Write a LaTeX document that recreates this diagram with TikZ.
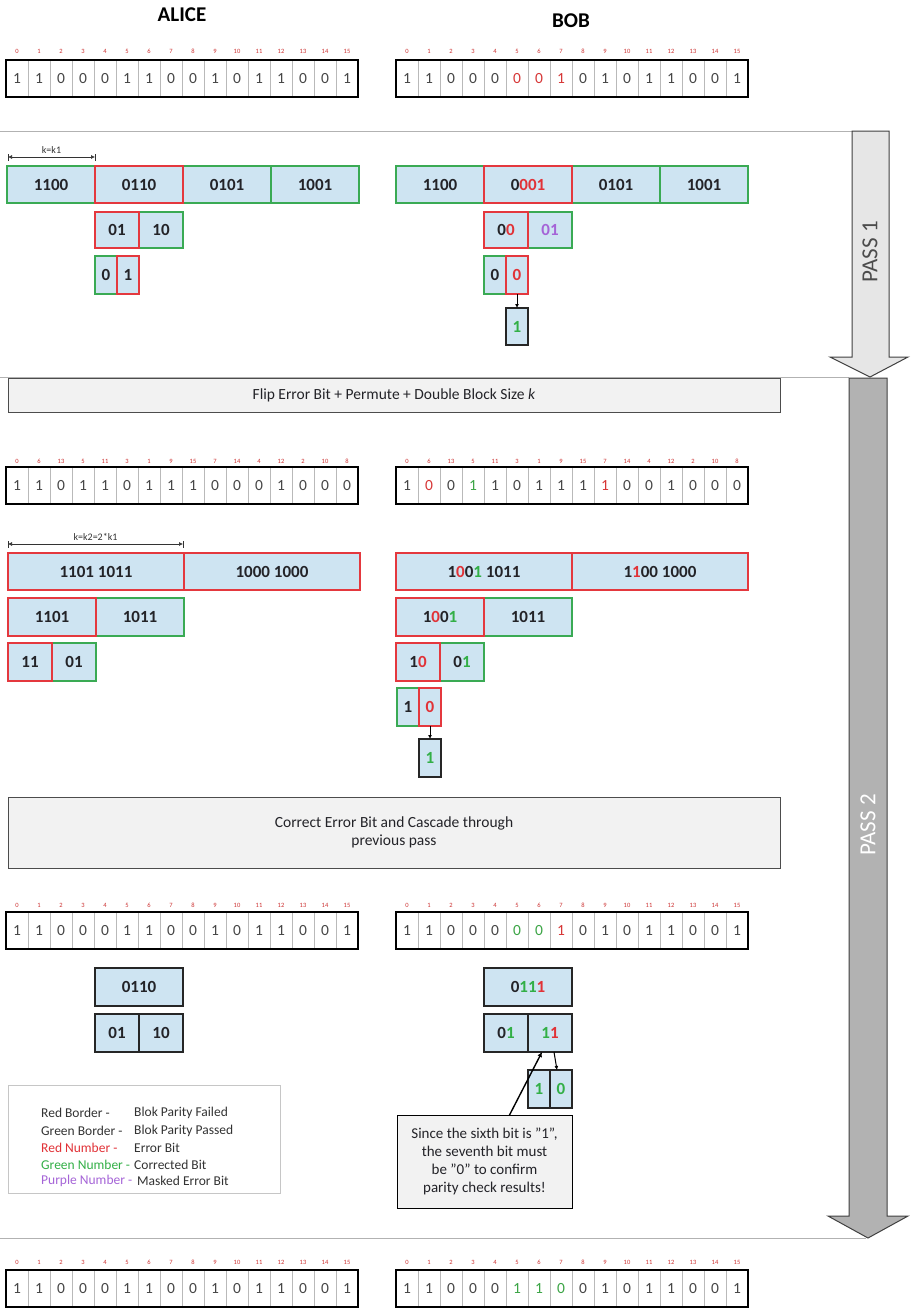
\documentclass[tikz,border=0pt]{standalone}
\usepackage{fontspec}
\setmainfont{Carlito}
\usetikzlibrary{arrows.meta}
\definecolor{bred}{RGB}{228,56,62}
\definecolor{bgreen}{RGB}{58,170,84}
\definecolor{tred}{RGB}{225,50,55}
\definecolor{tgreen}{RGB}{50,175,70}
\definecolor{tpurple}{RGB}{165,100,215}
\definecolor{bfill}{RGB}{206,228,242}
\definecolor{txt}{RGB}{35,35,40}
\definecolor{digit}{RGB}{70,70,70}
\definecolor{rowred}{RGB}{215,55,55}
\definecolor{rowgreen}{RGB}{60,165,70}
\definecolor{idxred}{RGB}{205,50,50}
\definecolor{banner}{RGB}{242,242,242}
\definecolor{pass1fill}{RGB}{230,230,230}
\definecolor{pass2fill}{RGB}{178,178,178}
\newcommand{\bitrow}[4]{%
  \foreach \b/\c [count=\i from 0] in {#4} {
    \node[bitcell,text=\c] (#1\i) at ({#2+11+22*\i},{#3+18.5}) {\b};
  }
  \draw[rowframe] (#10.north west) rectangle (#115.south east);
}
\newcommand{\idxrow}[4]{%
  \foreach \n [count=\i from 0] in {#4} {
    \node[idx] (#1\i) at ({#2+11+22*\i},#3) {\n};
  }
}
\newcommand{\blkat}[7]{%
  \node[blk,#6,minimum width={(#3-#2)*1pt},minimum height={(#5-#4)*1pt}] (#1) at ({(#2+#3)/2},{(#4+#5)/2}) {#7};
}
\begin{document}
\begin{tikzpicture}[x=1pt,y=-1pt,
  bitcell/.style={draw=gray!55,line width=.5pt,minimum width=22pt,minimum height=37pt,inner sep=0pt,outer sep=0pt,font=\fontsize{15.5}{17}\selectfont},
  rowframe/.style={draw=black,line width=1.6pt},
  idx/.style={inner sep=0pt,text=idxred,font=\fontsize{6.5}{7}\selectfont},
  blk/.style={draw,fill=bfill,line width=1.3pt,inner sep=0pt,outer sep=0pt,text=txt,font=\fontsize{17}{19}\selectfont\bfseries},
  gb/.style={draw=bgreen},
  rb/.style={draw=bred},
  kb/.style={draw=black!85},
  conn/.style={-{Latex[length=4pt,width=4pt]},line width=1pt,black},
  callarrow/.style={-{Latex[length=5pt,width=5pt]},line width=1.4pt,black},
  dim/.style={{Latex[length=4pt,width=4pt]}-{Latex[length=4pt,width=4pt]},line width=.6pt,black!80},
  dimlab/.style={inner sep=1pt,text=black!80,font=\fontsize{10}{11}\selectfont},
  frameline/.style={draw=gray!60,line width=1pt},
  bannerbox/.style={draw=black!70,fill=banner,line width=.8pt,inner sep=0pt,outer sep=0pt,text=txt,font=\fontsize{15.5}{18}\selectfont},
  legtext/.style={anchor=west,inner sep=0pt,text=black!80,font=\fontsize{13.5}{15}\selectfont},
  title/.style={font=\fontsize{21}{24}\selectfont\bfseries,text=black}
]
\useasboundingbox[fill=white] (0,0) rectangle (913,1314);

% frame lines
\draw[frameline] (0,131) -- (852,131);
\draw[frameline] (0,377) -- (849,377);
\draw[frameline] (0,1238) -- (866,1238);

% pass arrows
\draw[fill=pass1fill,draw=black!75,line width=1pt] (852,131) -- (889,131) -- (889,357) -- (908,357) -- (870,377) -- (830,357) -- (852,357) -- cycle;
\node[rotate=90,text=black!70,font=\fontsize{23}{25}\selectfont] (pass1) at (870,252) {PASS 1};
\draw[fill=pass2fill,draw=black!75,line width=1pt] (849,378) -- (887,378) -- (887,1216) -- (908,1216) -- (868,1238) -- (828,1216) -- (849,1216) -- cycle;
\node[rotate=90,text=white,font=\fontsize{23}{25}\selectfont] (pass2) at (868,825) {PASS 2};

% titles
\node[title] (alice) at (182,15) {ALICE};
\node[title] (bob) at (571,21) {BOB};

% top rows
\idxrow{ai}{6}{51}{0,1,2,3,4,5,6,7,8,9,10,11,12,13,14,15}
\bitrow{ar}{6}{60}{1/digit,1/digit,0/digit,0/digit,0/digit,1/digit,1/digit,0/digit,0/digit,1/digit,0/digit,1/digit,1/digit,0/digit,0/digit,1/digit}
\idxrow{bi}{396}{51}{0,1,2,3,4,5,6,7,8,9,10,11,12,13,14,15}
\bitrow{br}{396}{60}{1/digit,1/digit,0/digit,0/digit,0/digit,0/rowred,0/rowred,1/rowred,0/digit,1/digit,0/digit,1/digit,1/digit,0/digit,0/digit,1/digit}

% pass 1 dimension
\coordinate (k1s) at (8,157);
\coordinate (k1e) at (95,157);
\draw[dim] (k1s) -- node[dimlab,above=2pt] (k1lab) {k=k1} (k1e);
\draw[line width=.8pt,black!80] ([yshift=-3.5pt]k1s) -- ([yshift=3.5pt]k1s);
\draw[line width=.8pt,black!80] ([yshift=-3.5pt]k1e) -- ([yshift=3.5pt]k1e);

% pass 1 Alice
\blkat{a1b1}{7}{95}{166}{203}{gb}{1100}
\blkat{a1b3}{183}{271}{166}{203}{gb}{0101}
\blkat{a1b4}{271}{359}{166}{203}{gb}{1001}
\blkat{a1b2}{95}{183}{166}{203}{rb}{0110}
\blkat{a1c2}{139}{183}{212}{248}{gb}{10}
\blkat{a1c1}{95}{139}{212}{248}{rb}{01}
\blkat{a1d1}{95}{117}{256}{294}{gb}{0}
\blkat{a1d2}{117}{139}{256}{294}{rb}{1}

% pass 1 Bob
\blkat{b1b1}{396}{484}{166}{203}{gb}{1100}
\blkat{b1b3}{572}{660}{166}{203}{gb}{0101}
\blkat{b1b4}{660}{748}{166}{203}{gb}{1001}
\blkat{b1b2}{484}{572}{166}{203}{rb}{0\textcolor{tred}{001}}
\blkat{b1c2}{528}{572}{212}{248}{gb}{\textcolor{tpurple}{01}}
\blkat{b1c1}{484}{528}{212}{248}{rb}{0\textcolor{tred}{0}}
\blkat{b1d1}{484}{506}{256}{294}{gb}{0}
\blkat{b1d2}{506}{528}{256}{294}{rb}{\textcolor{tred}{0}}
\blkat{b1e}{506}{528}{308}{345}{kb}{\textcolor{tgreen}{1}}
\draw[conn] (b1d2.south) -- (b1e.north);

% banner 1
\node[bannerbox,minimum width=772pt,minimum height=34pt] (ban1) at (394,395) {Flip Error Bit + Permute + Double Block Size \textit{k}};

% pass 2 permuted rows
\idxrow{ai2}{6}{461}{0,6,13,5,11,3,1,9,15,7,14,4,12,2,10,8}
\bitrow{ar2}{6}{467}{1/digit,1/digit,0/digit,1/digit,1/digit,0/digit,1/digit,1/digit,1/digit,0/digit,0/digit,0/digit,1/digit,0/digit,0/digit,0/digit}
\idxrow{bi2}{396}{461}{0,6,13,5,11,3,1,9,15,7,14,4,12,2,10,8}
\bitrow{br2}{396}{467}{1/digit,0/rowred,0/digit,1/rowgreen,1/digit,0/digit,1/digit,1/digit,1/digit,1/rowred,0/digit,0/digit,1/digit,0/digit,0/digit,0/digit}

% pass 2 dimension
\coordinate (k2s) at (8,544);
\coordinate (k2e) at (183,544);
\draw[dim] (k2s) -- node[dimlab,above=2pt] (k2lab) {k=k2=2*k1} (k2e);
\draw[line width=.8pt,black!80] ([yshift=-3.5pt]k2s) -- ([yshift=3.5pt]k2s);
\draw[line width=.8pt,black!80] ([yshift=-3.5pt]k2e) -- ([yshift=3.5pt]k2e);

% pass 2 Alice
\blkat{a2b1}{8}{184}{553}{590}{rb}{1101 1011}
\blkat{a2b2}{184}{360}{553}{590}{rb}{1000 1000}
\blkat{a2c2}{96}{184}{598}{636}{gb}{1011}
\blkat{a2c1}{8}{96}{598}{636}{rb}{1101}
\blkat{a2d2}{52}{96}{643}{681}{gb}{01}
\blkat{a2d1}{8}{52}{643}{681}{rb}{11}

% pass 2 Bob
\blkat{b2b1}{396}{572}{553}{590}{rb}{1\textcolor{tred}{0}0\textcolor{tgreen}{1} 1011}
\blkat{b2b2}{572}{748}{553}{590}{rb}{1\textcolor{tred}{1}00 1000}
\blkat{b2c2}{484}{572}{598}{636}{gb}{1011}
\blkat{b2c1}{396}{484}{598}{636}{rb}{1\textcolor{tred}{0}0\textcolor{tgreen}{1}}
\blkat{b2d2}{440}{484}{643}{681}{gb}{0\textcolor{tgreen}{1}}
\blkat{b2d1}{396}{440}{643}{681}{rb}{1\textcolor{tred}{0}}
\blkat{b2e1}{397}{419}{688}{726}{gb}{1}
\blkat{b2e2}{419}{441}{688}{726}{rb}{\textcolor{tred}{0}}
\blkat{b2f}{419}{441}{739}{777}{kb}{\textcolor{tgreen}{1}}
\draw[conn] (b2e2.south) -- (b2f.north);

% banner 2
\node[bannerbox,minimum width=772pt,minimum height=71pt,align=center] (ban2) at (394,832.5) {Correct Error Bit and Cascade through\\previous pass};

% cascade rows
\idxrow{ai3}{6}{905}{0,1,2,3,4,5,6,7,8,9,10,11,12,13,14,15}
\bitrow{ar3}{6}{912}{1/digit,1/digit,0/digit,0/digit,0/digit,1/digit,1/digit,0/digit,0/digit,1/digit,0/digit,1/digit,1/digit,0/digit,0/digit,1/digit}
\idxrow{bi3}{396}{905}{0,1,2,3,4,5,6,7,8,9,10,11,12,13,14,15}
\bitrow{br3}{396}{912}{1/digit,1/digit,0/digit,0/digit,0/digit,0/rowgreen,0/rowgreen,1/rowred,0/digit,1/digit,0/digit,1/digit,1/digit,0/digit,0/digit,1/digit}

% cascade Alice
\blkat{a3b}{95}{183}{968}{1006}{kb}{0110}
\blkat{a3c1}{95}{139}{1014}{1052}{kb}{01}
\blkat{a3c2}{139}{183}{1014}{1052}{kb}{10}

% cascade Bob
\blkat{b3b}{484}{572}{968}{1006}{kb}{0\textcolor{tgreen}{11}\textcolor{tred}{1}}
\blkat{b3c1}{484}{528}{1014}{1052}{kb}{0\textcolor{tgreen}{1}}
\blkat{b3c2}{528}{572}{1014}{1052}{kb}{\textcolor{tgreen}{1}\textcolor{tred}{1}}
\blkat{b3d1}{528}{550}{1070}{1108}{kb}{\textcolor{tgreen}{1}}
\blkat{b3d2}{550}{572}{1070}{1108}{kb}{\textcolor{tgreen}{0}}
\draw[conn] ([xshift=4pt]b3c2.south) -- ([xshift=-4pt]b3d2.north);

% callout
\node[draw=black,fill=banner,line width=1pt,minimum width=175pt,minimum height=93pt,inner sep=0pt,outer sep=0pt,align=center,text=txt,font=\fontsize{15}{18}\selectfont] (call) at (484.5,1161.5) {Since the sixth bit is "1",\\the seventh bit must\\be "0" to confirm\\parity check results!};
\draw[callarrow] ([xshift=25pt]call.north) -- ([xshift=-8pt]b3c2.south);

% legend
\node[draw=gray!45,fill=white,line width=.8pt,minimum width=272pt,minimum height=108pt,inner sep=0pt] (legend) at (144,1139) {};
\node[legtext] (l1a) at (41,1113) {Red Border -};
\node[legtext] (l1b) at (134,1113) {Blok Parity Failed};
\node[legtext] (l2a) at (41,1131) {Green Border -};
\node[legtext] (l2b) at (134,1131) {Blok Parity Passed};
\node[legtext,text=tred] (l3a) at (41,1148) {Red Number -};
\node[legtext] (l3b) at (134,1148) {Error Bit};
\node[legtext,text=tgreen] (l4a) at (41,1165) {Green Number -};
\node[legtext] (l4b) at (134,1165) {Corrected Bit};
\node[legtext,text=tpurple] (l5a) at (41,1181) {Purple Number -};
\node[legtext] (l5b) at (137,1181) {Masked Error Bit};

% bottom rows
\idxrow{ai4}{6}{1262}{0,1,2,3,4,5,6,7,8,9,10,11,12,13,14,15}
\bitrow{ar4}{6}{1270}{1/digit,1/digit,0/digit,0/digit,0/digit,1/digit,1/digit,0/digit,0/digit,1/digit,0/digit,1/digit,1/digit,0/digit,0/digit,1/digit}
\idxrow{bi4}{396}{1262}{0,1,2,3,4,5,6,7,8,9,10,11,12,13,14,15}
\bitrow{br4}{396}{1270}{1/digit,1/digit,0/digit,0/digit,0/digit,1/rowgreen,1/rowgreen,0/rowgreen,0/digit,1/digit,0/digit,1/digit,1/digit,0/digit,0/digit,1/digit}
\end{tikzpicture}
\end{document}
